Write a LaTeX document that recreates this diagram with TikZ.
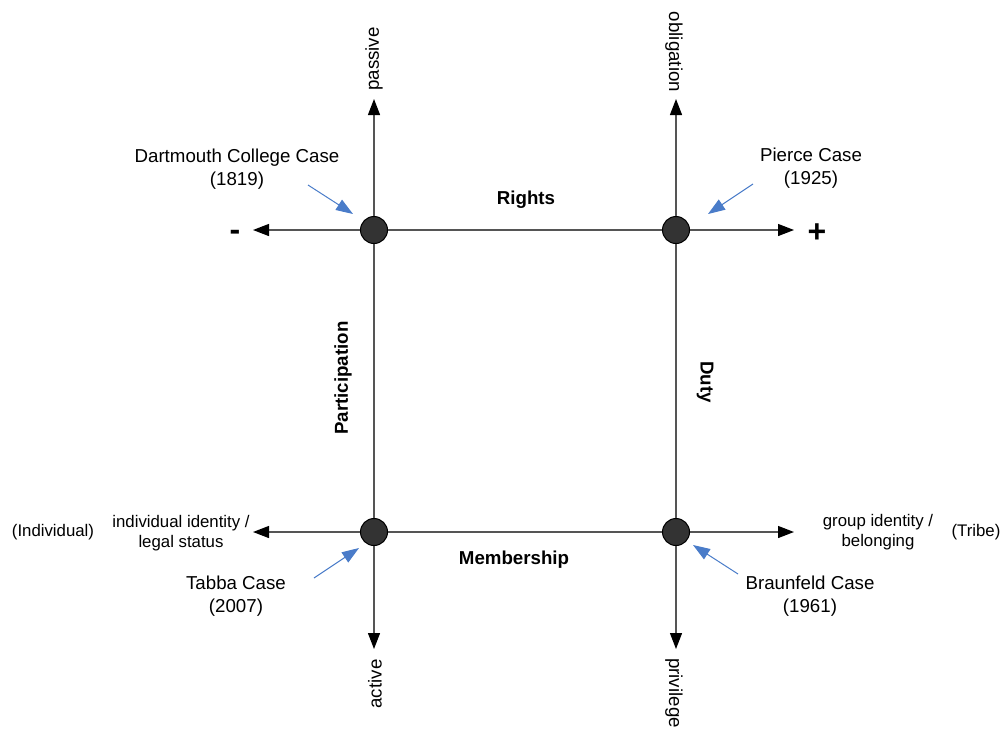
\documentclass[tikz,border=0pt]{standalone}
\usepackage{fontspec}
\setmainfont{Liberation Sans}
\usetikzlibrary{arrows.meta}
\definecolor{axisgray}{HTML}{555555}
\definecolor{dotfill}{HTML}{333333}
\definecolor{pointer}{HTML}{4A7CC9}
\begin{document}
\begin{tikzpicture}[x=1pt,y=-1pt,
  axis/.style={draw=axisgray,line width=1.3pt},
  axisarrow/.style={axis,-{Triangle[length=16pt,width=12pt,fill=black,color=black]}},
  case/.style={circle,draw=black,line width=1pt,fill=dotfill,minimum size=27pt,inner sep=0pt},
  ptr/.style={draw=pointer,line width=1pt,-{Triangle[length=17pt,width=12pt]}},
  lbl/.style={font=\fontsize{18.7}{22.5}\selectfont,align=center,inner sep=0pt},
  small/.style={font=\fontsize{16.8}{20}\selectfont,align=center,inner sep=0pt},
  head/.style={font=\fontsize{18.7}{22.5}\selectfont\bfseries,inner sep=0pt},
  sign/.style={font=\fontsize{32}{36}\selectfont\bfseries,inner sep=0pt}]
\useasboundingbox (0,0) rectangle (1005,729);

% arrow ends of the axes
\coordinate (tlW) at (253,230);
\coordinate (trE) at (794,230);
\coordinate (blW) at (253,532);
\coordinate (brE) at (794,532);
\coordinate (tlN) at (374,99);
\coordinate (trN) at (676,99);
\coordinate (blS) at (374,649);
\coordinate (brS) at (676,649);

% grid lines through the four cases
\path (374,230) coordinate (tlc) (676,230) coordinate (trc)
      (374,532) coordinate (blc) (676,532) coordinate (brc);
\draw[axis] (tlc) -- (trc);
\draw[axis] (blc) -- (brc);
\draw[axis] (tlc) -- (blc);
\draw[axis] (trc) -- (brc);
\draw[axisarrow] (tlc) -- (tlW);
\draw[axisarrow] (trc) -- (trE);
\draw[axisarrow] (blc) -- (blW);
\draw[axisarrow] (brc) -- (brE);
\draw[axisarrow] (tlc) -- (tlN);
\draw[axisarrow] (trc) -- (trN);
\draw[axisarrow] (blc) -- (blS);
\draw[axisarrow] (brc) -- (brS);

% the four cases
\node[case] (tl) at (tlc) {};
\node[case] (tr) at (trc) {};
\node[case] (bl) at (blc) {};
\node[case] (br) at (brc) {};

% case labels and pointers
\node[lbl] (dart) at (237,169) {Dartmouth College Case\\(1819)};
\node[lbl] (pierce) at (811,168) {Pierce Case\\(1925)};
\node[lbl] (tabba) at (236,596) {Tabba Case\\(2007)};
\node[lbl] (braun) at (810,596) {Braunfeld Case\\(1961)};
\coordinate (dartp) at (308,185);
\coordinate (piercep) at (753,184);
\coordinate (tabbap) at (314,578);
\coordinate (braunp) at (738,574);
\draw[ptr] (dartp) -- (353,214);
\draw[ptr] (piercep) -- (708,214);
\draw[ptr] (tabbap) -- (359,548);
\draw[ptr] (braunp) -- (693,545);

% edge labels
\node[head] (rights) at (526,200) {Rights};
\node[head] (member) at (514,560) {Membership};
\node[head,rotate=90] (partic) at (343,378) {Participation};
\node[head,rotate=-90] (duty) at (705,382) {Duty};

% axis end labels
\node[sign] (minus) at (235,235) {-};
\node[sign] (plus) at (817,233) {+};
\node[lbl,rotate=90] (passive) at (374,59) {passive};
\node[lbl,rotate=-90] (oblig) at (674,52) {obligation};
\node[lbl,rotate=90] (active) at (375,684) {active};
\node[lbl,rotate=-90,anchor=west] (priv) at (674,658) {privilege};
\node[small] (indid) at (181,533) {individual identity /\\legal status};
\node[small] (indiv) at (53,532) {(Individual)};
\node[small] (grpid) at (878,532) {group identity /\\belonging};
\node[small] (tribe) at (976,532) {(Tribe)};
\end{tikzpicture}
\end{document}
